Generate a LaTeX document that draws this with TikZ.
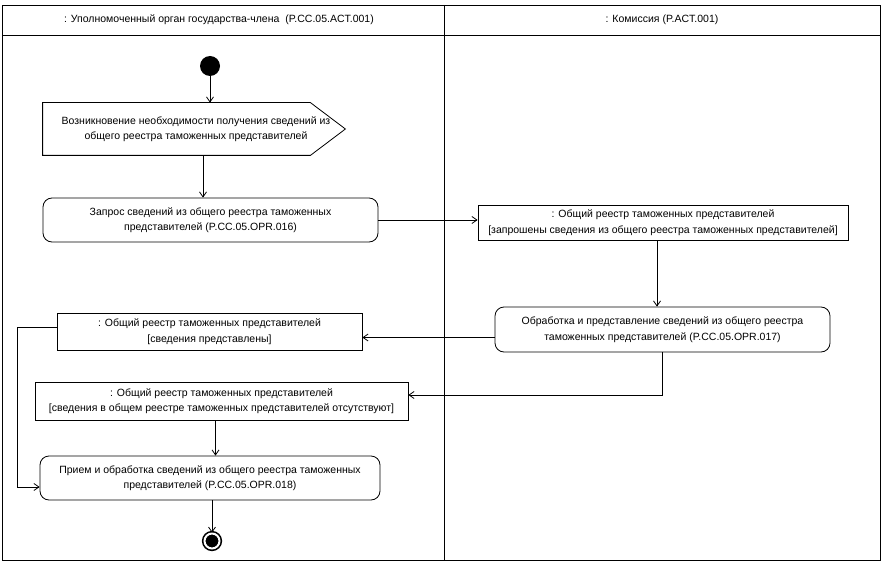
\documentclass[tikz,border=0pt]{standalone}
\usepackage{fontspec}
\setmainfont{Liberation Sans}
\usetikzlibrary{arrows.meta}
\begin{document}
\begin{tikzpicture}[x=1pt, y=-1pt,
	font=\fontsize{10.5}{15.5}\selectfont,
	every path/.style={line width=0.8pt},
	flow/.style={-{Straight Barb[length=5pt,width=7pt]}},
	action/.style={draw, rounded corners=9pt, align=center},
	object/.style={draw, align=center},
	initial/.style={circle, fill=black, minimum size=20pt, inner sep=0pt},
	final/.style={circle, draw, line width=1.6pt, fill=black, inner sep=0pt, minimum size=15pt, double=white, double distance=2pt}]
	\useasboundingbox (0,0) rectangle (883,564);

	% swimlanes
	\draw (2,5) rectangle (880,560);
	\draw (2,35) -- (880,35);
	\draw (444,5) -- (444,560);
	\node (lane1) at (219,20) {: Уполномоченный орган государства-члена\ \ (P.CC.05.ACT.001)};
	\node (lane2) at (662,20) {: Комиссия (P.ACT.001)};

	% member state
	\node[initial] (start) at (210,66) {};
	\node[minimum width=302pt, minimum height=52pt,
		label={[xshift=2pt, align=center]center:Возникновение необходимости получения сведений из\\общего реестра таможенных представителей}] (need) at (194,129) {};
	\draw (need.north west) -- ([xshift=-35pt]need.north east) -- (need.east)
		-- ([xshift=-35pt]need.south east) -- (need.south west) -- cycle;
	\node[action, minimum width=335pt, minimum height=44pt] (request) at (210.5,220)
		{Запрос сведений из общего реестра таможенных\\представителей (P.CC.05.OPR.016)};
	\node[object, minimum width=305pt, minimum height=37pt] (given) at (209.5,331.5)
		{: Общий реестр таможенных представителей\\{}[сведения представлены]};
	\node[object, minimum width=373pt, minimum height=38pt] (absent) at (221.5,401)
		{: Общий реестр таможенных представителей\\{}[сведения в общем реестре таможенных представителей отсутствуют]};
	\node[action, minimum width=340pt, minimum height=44pt] (receive) at (210,478)
		{Прием и обработка сведений из общего реестра таможенных\\представителей (P.CC.05.OPR.018)};
	\node[final] (stop) at (212,541) {};

	% commission
	\node[object, minimum width=370pt, minimum height=35pt] (asked) at (663,222.5)
		{: Общий реестр таможенных представителей\\{}[запрошены сведения из общего реестра таможенных представителей]};
	\node[action, minimum width=335pt, minimum height=45pt] (process) at (662.5,329.5)
		{Обработка и представление сведений из общего реестра\\таможенных представителей (P.CC.05.OPR.017)};

	% control and object flows
	\draw[flow] (start) -- (start |- need.north);
	\draw[flow] ([xshift=9pt]need.south) -- ([xshift=9pt]need.south |- request.north);
	\draw[flow] (request.east) -- (request.east -| asked.west);
	\draw[flow] ([xshift=-6pt]asked.south) -- ([xshift=-6pt]asked.south |- process.north);
	\draw[flow] ([yshift=-8pt]process.west) -- ([yshift=-8pt]process.west -| given.east);
	\draw[flow] (process.south) |- ([yshift=6pt]absent.east);
	\draw[flow] ([yshift=4.5pt]given.west) -- ++(-39,0) |- ([yshift=-9pt]receive.west);
	\draw[flow] ([xshift=-6pt]absent.south) -- ([xshift=-6pt]absent.south |- receive.north);
	\draw[flow] (receive.south -| stop) -- (stop);
\end{tikzpicture}
\end{document}
